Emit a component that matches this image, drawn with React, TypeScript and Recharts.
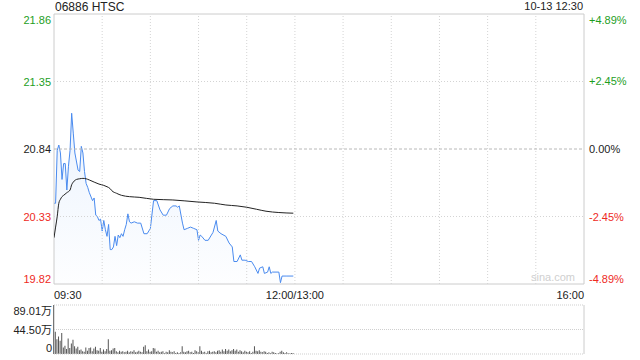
import React from 'react';
import {
  ComposedChart,
  Area,
  Line,
  XAxis,
  YAxis,
  ReferenceLine,
  ReferenceArea,
  BarChart,
  Bar,
} from 'recharts';

const stockTitle = '06886 HTSC';
const timestamp = '10-13 12:30';
const watermark = 'sina.com';
const prevClose = 20.84;

// minutes since 09:30 (trading minutes, 12:00 = 150, 16:00 = 330)
const priceMinutes = [
  0, 1, 2, 3, 4, 5, 6, 7, 8, 9, 10, 11, 12, 13, 15, 16, 17, 18, 19, 20, 21, 22, 24, 25, 26, 27, 28, 29,
  30, 31, 32, 33, 34, 35, 36, 37, 38, 39, 40, 41, 42, 43, 44, 45, 46, 47, 48, 50, 52, 54, 56, 58, 60,
  62, 64, 66, 68, 70, 72, 74, 76, 77, 78, 80, 81, 83, 85, 87, 89, 90, 91, 92, 94, 96, 98, 99, 101, 102,
  104, 107, 109, 111, 112, 114, 116, 117, 119, 121, 123, 125, 127, 128, 130, 131, 133, 134, 135, 136,
  140, 141, 142, 145, 149,
];
const priceValues = [
  20.43, 20.43, 20.83, 20.87, 20.81, 20.61, 20.73, 20.73, 20.53, 20.71, 20.83, 21.11, 20.96, 20.81,
  20.68, 20.67, 20.86, 20.81, 20.67, 20.58, 20.55, 20.51, 20.45, 20.47, 20.34, 20.33, 20.3, 20.31,
  20.22, 20.3, 20.23, 20.18, 20.27, 20.08, 20.08, 20.1, 20.18, 20.11, 20.19, 20.17, 20.2, 20.18, 20.23,
  20.27, 20.35, 20.29, 20.28, 20.29, 20.28, 20.28, 20.2, 20.2, 20.24, 20.45, 20.45, 20.38, 20.34,
  20.34, 20.39, 20.41, 20.41, 20.4, 20.41, 20.28, 20.23, 20.24, 20.25, 20.24, 20.23, 20.15, 20.19,
  20.18, 20.15, 20.15, 20.19, 20.21, 20.3, 20.22, 20.2, 20.18, 20.13, 20.1, 19.99, 19.99, 20.04, 20.0,
  20.0, 19.99, 19.99, 19.95, 19.9, 19.94, 19.95, 19.9, 19.91, 19.95, 19.9, 19.91, 19.91, 19.83, 19.88,
  19.88, 19.88,
];

const avgMinutes = [
  0, 1, 2, 3, 4, 5, 6, 8, 10, 11, 12, 14, 16, 18, 20, 22, 25, 28, 31, 33, 35, 36, 39, 42, 47, 53, 62,
  74, 89, 100, 107, 114, 120, 126, 132, 140, 149,
];
const avgValues = [
  20.17, 20.25, 20.33, 20.43, 20.46, 20.48, 20.49, 20.51, 20.53, 20.57, 20.59, 20.61, 20.615, 20.618,
  20.615, 20.606, 20.59, 20.575, 20.565, 20.555, 20.54, 20.525, 20.505, 20.49, 20.48, 20.475, 20.46,
  20.455, 20.44, 20.43, 20.417, 20.41, 20.4, 20.385, 20.37, 20.36, 20.355,
];

// volume per minute, in 万 shares
const volumeValues = [
  89.01, 40.5, 27, 32, 24, 38, 12, 15, 9, 28, 11, 19, 26, 14, 10, 13, 7, 8, 5, 4, 12, 6, 11, 12, 5, 10,
  13, 7, 6, 11, 4, 8, 5, 9, 27, 6, 7, 10, 11, 5, 3, 6, 4, 5, 3, 4, 6, 3, 5, 4, 7, 3, 4, 6, 4, 3, 13, 16,
  5, 8, 4, 5, 11, 10, 4, 6, 3, 4, 5, 2, 4, 3, 7, 4, 3, 5, 2, 3, 2, 3, 14, 4, 3, 5, 6, 3, 4, 2, 7, 5, 3,
  14, 6, 3, 4, 2, 5, 6, 3, 4, 5, 3, 6, 7, 4, 8, 5, 9, 6, 8, 5, 7, 9, 6, 8, 4, 7, 5, 3, 6, 4, 3, 5, 2, 4,
  14, 6, 5, 7, 4, 3, 5, 4, 2, 3, 2, 4, 3, 2, 1, 2, 4, 6, 3, 2, 3, 2, 1, 2, 2,
];

const priceTicks = [19.82, 20.33, 20.84, 21.35, 21.86];
const priceTickLabels = ['19.82', '20.33', '20.84', '21.35', '21.86'];
const pctTicks = [-4.89, -2.45, 0, 2.45, 4.89];
const pctTickLabels = ['-4.89%', '-2.45%', '0.00%', '+2.45%', '+4.89%'];
const timeTicks = [0, 150, 330];
const timeTickLabels = ['09:30', '12:00/13:00', '16:00'];
const gridMinutes = [30, 60, 90, 120, 150, 180, 210, 240, 270, 300];
const volTicks = [0, 44.5, 89.01];
const volTickLabels = ['0', '44.50万', '89.01万'];

const priceData = priceMinutes.map((m, i) => ({ m, p: priceValues[i] }));
const avgData = avgMinutes.map((m, i) => ({ m, a: avgValues[i] }));
const volumeData = volumeValues.map((v, i) => ({ m: i, v }));

const FONT = '"Liberation Sans", Arial, "Noto Sans CJK SC", sans-serif';
const GREEN = '#1e9e1e';
const RED = '#ee2a1e';
const DARK = '#222';

function colorFor(sign: number) {
  return sign > 0 ? GREEN : sign < 0 ? RED : DARK;
}

function vOffset(idx: number, n: number) {
  if (idx === n - 1) return 10;
  if (idx === 0) return -1;
  return 4;
}

const PriceTick = (props: any) => {
  const { y, payload } = props;
  const idx = priceTicks.indexOf(payload.value);
  const v = priceTicks[idx];
  return (
    <text x={51} y={y + vOffset(idx, priceTicks.length)} textAnchor="end" fontSize={11} fontFamily={FONT}
      fill={colorFor(v - prevClose)}>
      {priceTickLabels[idx]}
    </text>
  );
};

const PctTick = (props: any) => {
  const { y, payload } = props;
  const idx = pctTicks.indexOf(payload.value);
  const v = pctTicks[idx];
  return (
    <text x={589} y={y + vOffset(idx, pctTicks.length)} textAnchor="start" fontSize={11} fontFamily={FONT}
      fill={colorFor(v)}>
      {pctTickLabels[idx]}
    </text>
  );
};

const TimeTick = (props: any) => {
  const { x, payload } = props;
  const idx = timeTicks.indexOf(payload.value);
  const anchor = idx === 0 ? 'start' : idx === timeTicks.length - 1 ? 'end' : 'middle';
  return (
    <text x={x} y={299} textAnchor={anchor} fontSize={11} fontFamily={FONT} fill={DARK}>
      {timeTickLabels[idx]}
    </text>
  );
};

const VolTick = (props: any) => {
  const { y, payload } = props;
  const idx = volTicks.indexOf(payload.value);
  const off = idx === volTicks.length - 1 ? 10 : idx === 0 ? -2 : 4;
  return (
    <text x={52} y={y + off} textAnchor="end" fontSize={11} fontFamily={FONT} fill={DARK}>
      {volTickLabels[idx]}
    </text>
  );
};

export default function App() {
  return (
    <div style={{ position: 'absolute', left: 0, top: 0, width: 640, height: 360, background: '#fff', fontFamily: FONT }}>
      <div style={{ position: 'absolute', left: 55, top: 1, fontSize: 12, lineHeight: '12px', color: DARK }}>
        {stockTitle}
      </div>
      <div style={{ position: 'absolute', right: 57, top: 1, fontSize: 11, lineHeight: '11px', color: DARK }}>
        {timestamp}
      </div>
      <div style={{ position: 'absolute', left: 0, top: 0 }}>
        <ComposedChart width={640} height={305} margin={{ top: 14, right: 0, bottom: 5, left: 0 }}>
          <defs>
            <linearGradient id="priceFill" x1="0" y1="0" x2="0" y2="1">
              <stop offset="0%" stopColor="#5d9cf2" stopOpacity={0.2} />
              <stop offset="100%" stopColor="#5d9cf2" stopOpacity={0.02} />
            </linearGradient>
          </defs>
          <XAxis xAxisId="t" type="number" dataKey="m" domain={[0, 330]} ticks={timeTicks} interval={0}
            axisLine={false} tickLine={false} height={16} tick={TimeTick} allowDataOverflow />
          <YAxis yAxisId="p" type="number" domain={[19.82, 21.86]} ticks={priceTicks} interval={0} width={54}
            axisLine={false} tickLine={false} tick={PriceTick} allowDataOverflow />
          <YAxis yAxisId="pct" orientation="right" type="number" domain={[-4.89, 4.89]} ticks={pctTicks}
            interval={0} width={56} axisLine={false} tickLine={false} tick={PctTick} allowDataOverflow />
          {gridMinutes.map((g) => (
            <ReferenceLine key={g} xAxisId="t" yAxisId="p" x={g} stroke="#d4d4d4" strokeDasharray="1 2" />
          ))}
          <ReferenceLine xAxisId="t" yAxisId="p" y={21.35} stroke="#d4d4d4" strokeDasharray="1 2" />
          <ReferenceLine xAxisId="t" yAxisId="p" y={20.33} stroke="#d4d4d4" strokeDasharray="1 2" />
          <ReferenceLine xAxisId="t" yAxisId="p" y={prevClose} stroke="#b8b8b8" strokeDasharray="3 2" />
          <Area xAxisId="t" yAxisId="p" data={priceData} dataKey="p" type="linear" stroke="#4a8bef"
            strokeWidth={1} fill="url(#priceFill)" dot={false} activeDot={false} isAnimationActive={false} />
          <Line xAxisId="t" yAxisId="p" data={avgData} dataKey="a" type="monotone" stroke="#222"
            strokeWidth={1} dot={false} activeDot={false} isAnimationActive={false} />
          <ReferenceArea xAxisId="t" yAxisId="p" x1={0} x2={330} y1={19.82} y2={21.86} fill="none"
            fillOpacity={0} stroke="#cccccc" />
        </ComposedChart>
      </div>
      <div style={{ position: 'absolute', right: 65, top: 272, fontSize: 11, lineHeight: '11px', color: '#cfcfcf' }}>
        {watermark}
      </div>
      <div style={{ position: 'absolute', left: 0, top: 300 }}>
        <BarChart width={640} height={60} data={volumeData} margin={{ top: 5, right: 56, bottom: 6, left: 0 }}>
          <XAxis dataKey="m" type="number" domain={[0, 330]} hide />
          <YAxis type="number" domain={[0, 89.01]} ticks={volTicks} interval={0} width={54} axisLine={false}
            tickLine={false} tick={VolTick} allowDataOverflow />
          <ReferenceLine y={89.01} stroke="#cfcfcf" strokeDasharray="1 1" />
          <ReferenceLine y={44.5} stroke="#cfcfcf" strokeDasharray="1 1" />
          <ReferenceLine y={0} stroke="#cfcfcf" strokeDasharray="1 1" />
          <ReferenceLine x={330} stroke="#cccccc" />
          <Bar dataKey="v" fill="#555" barSize={1} isAnimationActive={false} />
        </BarChart>
      </div>
    </div>
  );
}
